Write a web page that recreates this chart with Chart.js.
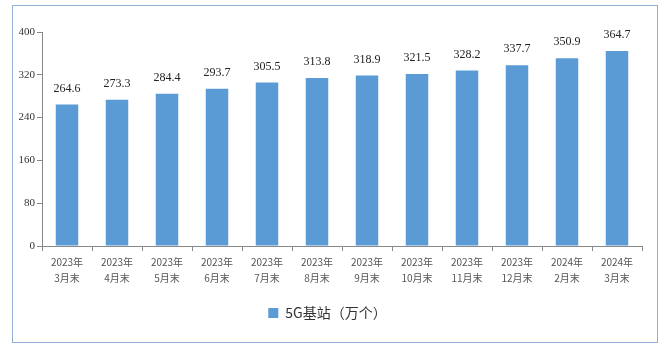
<!DOCTYPE html>
<html>
<head>
<meta charset="utf-8">
<script src="https://cdn.jsdelivr.net/npm/chart.js@4"></script>
<style>
  body { margin: 0; background: #fff; }
  #box { position: absolute; left: 12px; top: 5px; width: 644px; height: 336px; border: 1.5px solid #8fb2d2; }
</style>
</head>
<body>
<div id="box"><canvas id="chart" width="644" height="336"></canvas></div>
<script>
// 月份（2行表示）
const categories = [
  ['2023年', '3月末'], ['2023年', '4月末'], ['2023年', '5月末'], ['2023年', '6月末'],
  ['2023年', '7月末'], ['2023年', '8月末'], ['2023年', '9月末'], ['2023年', '10月末'],
  ['2023年', '11月末'], ['2023年', '12月末'], ['2024年', '2月末'], ['2024年', '3月末']
];
const seriesName = '5G基站（万个）';
const stations = [264.6, 273.3, 284.4, 293.7, 305.5, 313.8, 318.9, 321.5, 328.2, 337.7, 350.9, 364.7];
const yTicks = [0, 80, 160, 240, 320, 400];

// 棒の上に値を描く
const valueLabels = {
  id: 'valueLabels',
  afterDatasetsDraw(chart) {
    const ctx = chart.ctx;
    const meta = chart.getDatasetMeta(0);
    ctx.save();
    ctx.font = '12px "Liberation Serif", serif';
    ctx.fillStyle = '#222';
    ctx.textAlign = 'center';
    ctx.textBaseline = 'middle';
    meta.data.forEach((bar, i) => {
      ctx.fillText(stations[i].toFixed(1), bar.x, bar.y - 16);
    });
    ctx.restore();
  }
};

const ctx = document.getElementById('chart').getContext('2d');
new Chart(ctx, {
  type: 'bar',
  data: {
    labels: categories,
    datasets: [{
      label: seriesName,
      data: stations,
      backgroundColor: '#5b9bd5',
      categoryPercentage: 1,
      barPercentage: 0.45
    }]
  },
  options: {
    responsive: false,
    animation: false,
    layout: { padding: { top: 26, right: 15, left: 0, bottom: 12 } },
    plugins: {
      legend: {
        position: 'bottom',
        labels: {
          boxWidth: 10,
          boxHeight: 10,
          padding: 10,
          color: '#333',
          font: { family: '"Noto Sans CJK SC", sans-serif', size: 14 }
        }
      },
      tooltip: { enabled: false }
    },
    scales: {
      x: {
        grid: { drawOnChartArea: false, drawTicks: true, tickLength: 5, color: '#888', offset: true },
        border: { color: '#888' },
        ticks: {
          color: '#555',
          font: { family: '"Noto Sans CJK SC", sans-serif', size: 10, lineHeight: 1.6 },
          padding: 3,
          maxRotation: 0,
          autoSkip: false
        },
        afterFit: s => { s.height = 50; }
      },
      y: {
        min: 0,
        max: 400,
        afterBuildTicks: s => { s.ticks = yTicks.map(v => ({ value: v })); },
        grid: { drawOnChartArea: false, drawTicks: true, tickLength: 5, color: '#888' },
        border: { color: '#888' },
        ticks: {
          color: '#333',
          font: { family: '"Liberation Serif", serif', size: 11 },
          padding: 2
        },
        afterFit: s => { s.width = 29; }
      }
    }
  },
  plugins: [valueLabels]
});
</script>
</body>
</html>
